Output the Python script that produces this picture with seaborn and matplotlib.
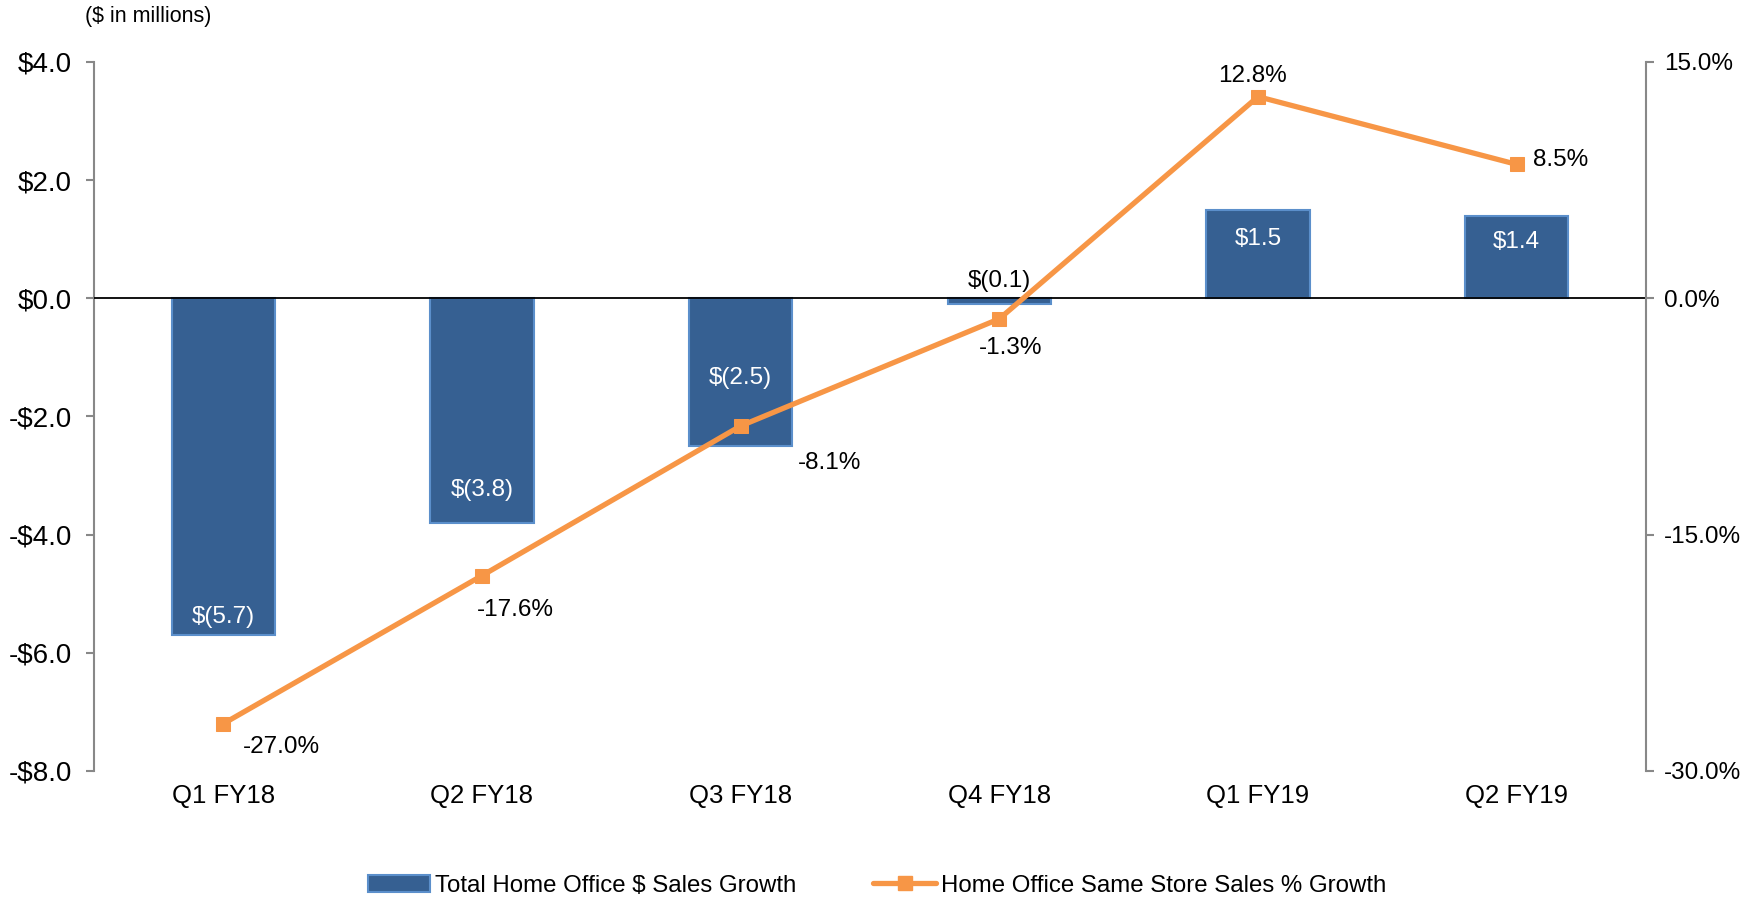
import numpy as np
import pandas as pd
import matplotlib
matplotlib.use("Agg")
import matplotlib.pyplot as plt
import seaborn as sns
from matplotlib.patches import Patch
from matplotlib.lines import Line2D

quarters = ["Q1 FY18", "Q2 FY18", "Q3 FY18", "Q4 FY18", "Q1 FY19", "Q2 FY19"]
sales_growth = [-5.7, -3.8, -2.5, -0.1, 1.5, 1.4]
same_store_pct = [-27.0, -17.6, -8.1, -1.3, 12.8, 8.5]

bar_labels = ["$(5.7)", "$(3.8)", "$(2.5)", "$(0.1)", "$1.5", "$1.4"]
pct_labels = ["-27.0%", "-17.6%", "-8.1%", "-1.3%", "12.8%", "8.5%"]

sns.set_style("white")
plt.rcParams["font.family"] = ["Liberation Sans", "DejaVu Sans"]
plt.rcParams["text.color"] = "black"
plt.rcParams["xtick.color"] = "black"
plt.rcParams["ytick.color"] = "black"

bar_color = "#366092"
bar_edge = "#5B8FCB"
line_color = "#F79646"

df = pd.DataFrame({"quarter": quarters, "sales": sales_growth, "pct": same_store_pct})

fig = plt.figure(figsize=(17.59, 9.01), dpi=100)
ax = fig.add_axes([0.0534, 0.1443, 0.8824, 0.7869])

sns.barplot(data=df, x="quarter", y="sales", color=bar_color, width=0.40,
            edgecolor=bar_edge, linewidth=1.5, saturation=1, ax=ax)
ax.set_xlim(-0.5, 5.5)
ax.set_ylim(-8, 4)
ax.set_yticks(np.arange(-8, 4.1, 2))
ax.set_yticklabels([("$" if v >= 0 else "-$") + f"{abs(v):.1f}" for v in np.arange(-8, 4.1, 2)])
ax.axhline(0, color="black", lw=1.3, zorder=3)
ax.set_xlabel("")
ax.set_ylabel("")
for s in ["top", "bottom", "right"]:
    ax.spines[s].set_visible(False)
ax.spines["left"].set_color("#888888")
ax.spines["left"].set_linewidth(1.5)
ax.tick_params(axis="y", which="both", left=True, length=6, width=1.5, color="#888888",
               labelcolor="black", labelsize=20, pad=10)
ax.tick_params(axis="x", bottom=False, labelsize=18.5, labelcolor="black", pad=6)

# bar value labels (offsets in data units from the bar end)
label_offsets = [0.3, 0.55, 1.15, 0.4, -0.5, -0.45]
label_colors = ["white", "white", "white", "black", "white", "white"]
for i, (v, t) in enumerate(zip(sales_growth, bar_labels)):
    y = v + label_offsets[i]
    ax.text(i, y, t, ha="center", va="center", fontsize=17.5, color=label_colors[i], zorder=5)

ax2 = ax.twinx()
sns.lineplot(x=np.arange(len(quarters)), y=same_store_pct, ax=ax2, color=line_color, lw=3.8,
             marker="s", markersize=10, markeredgecolor=line_color, zorder=4)
ax2.set_ylim(-30, 15)
ax2.set_yticks([-30, -15, 0, 15])
ax2.set_yticklabels([f"{v:.1f}%" for v in [-30, -15, 0, 15]])
for s in ["top", "bottom", "left"]:
    ax2.spines[s].set_visible(False)
ax2.spines["right"].set_color("#888888")
ax2.spines["right"].set_linewidth(1.5)
ax2.tick_params(axis="y", right=True, length=6, width=1.5, color="#888888",
                labelcolor="black", labelsize=17.5, pad=7)
ax2.set_xlim(-0.5, 5.5)

pct_offsets = [(14, -17), (-4, -25), (64, -27), (8, -21), (-4, 15), (12, 3)]
pct_ha = ["left", "left", "center", "center", "center", "left"]
for i, (v, t) in enumerate(zip(same_store_pct, pct_labels)):
    ax2.annotate(t, (i, v), xytext=pct_offsets[i], textcoords="offset points",
                 ha=pct_ha[i], va="center", fontsize=17.5, color="black")

fig.text(0.0485, 0.982, "($ in millions)", fontsize=15.5, ha="left", va="center")

handles = [Patch(facecolor=bar_color, edgecolor=bar_edge, linewidth=1.5),
           Line2D([0], [0], color=line_color, lw=3.8, marker="s", markersize=10)]
fig.legend(handles, ["Total Home Office $ Sales Growth", "Home Office Same Store Sales % Growth"],
           loc="center", bbox_to_anchor=(0.4985, 0.017), ncol=2, frameon=False, fontsize=17.3,
           handlelength=2.6, handletextpad=0.2, columnspacing=3.2)

fig.savefig("out.png", dpi=100)
